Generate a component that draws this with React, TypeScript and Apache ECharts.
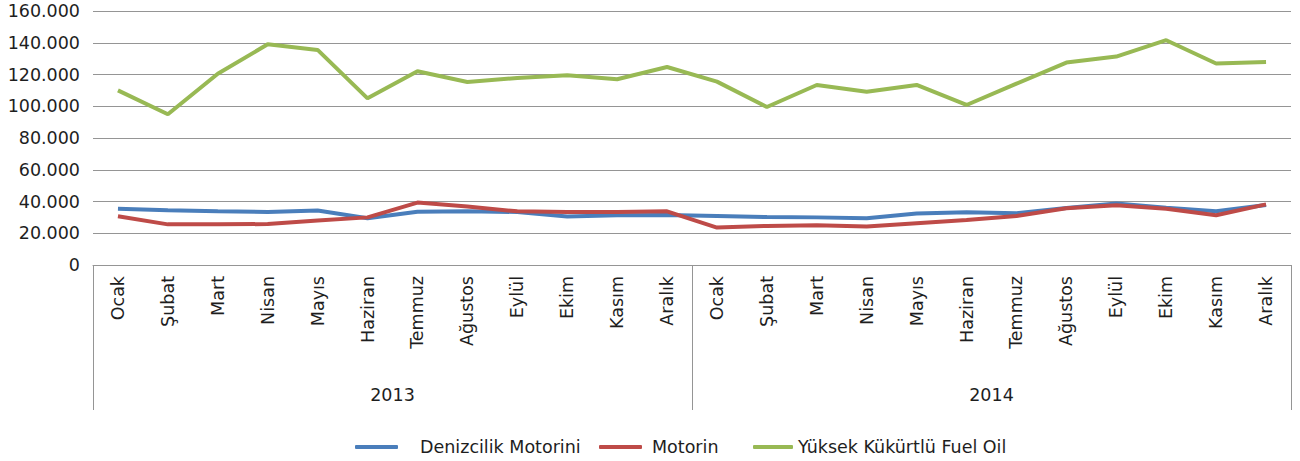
import React, { useEffect, useRef } from "react";
import * as echarts from "echarts";

const months = ["Ocak", "Şubat", "Mart", "Nisan", "Mayıs", "Haziran", "Temmuz", "Ağustos", "Eylül", "Ekim", "Kasım", "Aralık"];
const years = ["2013", "2014"];
const categories = years.flatMap((y) => months.map((m) => `${y}|${m}`));

const denizcilik = [35500, 34500, 33800, 33400, 34300, 29400, 33600, 33800, 33400, 30500, 31300, 31500,
  30900, 30200, 30000, 29400, 32400, 33200, 32600, 35900, 38700, 36100, 33800, 37800];
const motorin = [30700, 25600, 25600, 25800, 28000, 30000, 39300, 36800, 33800, 33400, 33400, 33800,
  23600, 24600, 25000, 24200, 26300, 28400, 30900, 35700, 37600, 35500, 31300, 38200];
const fuelOil = [110000, 95000, 120500, 139000, 135500, 105000, 122000, 115300, 117800, 119500, 117000, 124700,
  115500, 99500, 113400, 109200, 113400, 100800, 114200, 127500, 131300, 141600, 126900, 127900];

const seriesNames = ["Denizcilik Motorini", "Motorin", "Yüksek Kükürtlü Fuel Oil"];
const seriesColors = ["#4A7EBB", "#BE4B48", "#98B954"];
const seriesData = [denizcilik, motorin, fuelOil];

const FONT = "DejaVu Sans";
const TEXT = "#1e1e1e";
const GRID = "#959595";
const FS = 17.5;

const fmt = (v: number) => String(v).replace(/\B(?=(\d{3})+(?!\d))/g, ".");

export default function App() {
  const ref = useRef<HTMLDivElement>(null);
  useEffect(() => {
    document.body.style.margin = "0";
    const chart = echarts.init(ref.current!, null, { renderer: "svg" });
    const legendLefts = [350, 594, 748];
    const legendWidths = [43, 43, 40];
    const legendPad = [17, 5, 0];
    chart.setOption({
      animation: false,
      textStyle: { fontFamily: FONT },
      grid: { left: 93, right: 9, top: 11, bottom: 196, containLabel: false },
      legend: seriesNames.map((n, i) => ({
        data: [n],
        left: legendLefts[i],
        top: 433,
        icon: "roundRect",
        itemWidth: legendWidths[i],
        itemHeight: 4,
        textStyle: { fontFamily: FONT, fontSize: FS, color: TEXT, padding: [0, 0, 0, legendPad[i]] },
      })),
      xAxis: [
        {
          type: "category",
          data: categories,
          boundaryGap: true,
          position: "bottom",
          axisLine: { show: true, lineStyle: { color: GRID, width: 1 } },
          axisTick: { show: false },
          axisLabel: {
            interval: 0,
            rotate: 90,
            margin: 11,
            fontFamily: FONT,
            fontSize: FS,
            color: TEXT,
            formatter: (v: string) => v.split("|")[1],
          },
          splitLine: { show: false },
        },
        {
          type: "category",
          data: years,
          boundaryGap: true,
          position: "bottom",
          offset: 0,
          axisLine: { show: false },
          axisTick: { show: true, length: 145, lineStyle: { color: GRID, width: 1 } },
          axisLabel: { interval: 0, margin: 121, fontFamily: FONT, fontSize: FS, color: TEXT },
          splitLine: { show: false },
        },
      ],
      yAxis: {
        type: "value",
        min: 0,
        max: 160000,
        interval: 20000,
        axisLine: { show: false },
        axisTick: { show: false },
        axisLabel: { margin: 13, fontFamily: FONT, fontSize: FS, color: TEXT, formatter: (v: number) => fmt(v) },
        splitLine: { show: true, lineStyle: { color: GRID, width: 1 } },
      },
      series: seriesNames.map((n, i) => ({
        name: n,
        type: "line",
        xAxisIndex: 0,
        data: seriesData[i],
        symbol: "none",
        color: seriesColors[i],
        lineStyle: { color: seriesColors[i], width: 4 },
      })),
    });
    return () => chart.dispose();
  }, []);
  return <div ref={ref} style={{ width: 1300, height: 461 }} />;
}
